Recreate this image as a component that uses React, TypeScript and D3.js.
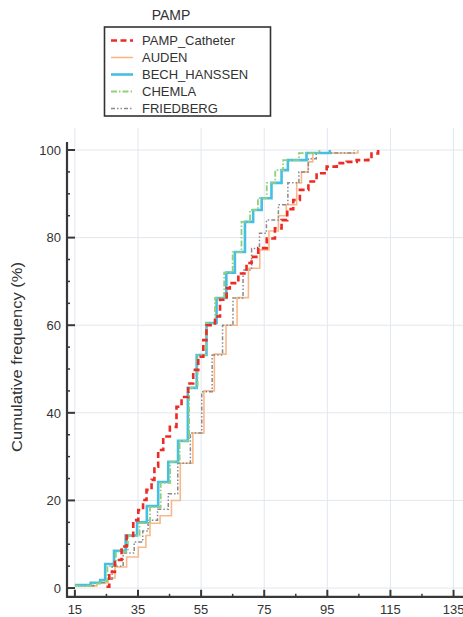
import React from "react";
import * as d3 from "d3";

// ---- data (value, cumulative %) step points ----
const pampCatheter: [number, number][] = [
  [25.0, 0.3], [25.9, 3.7], [27.7, 6.4], [29.8, 9.5], [31.4, 11.9], [33.5, 15.5], [35.1, 17.8],
  [36.6, 20.1], [37.7, 22.4], [39.3, 24.7], [40.2, 27.7], [41.4, 31.5], [43.0, 34.6], [45.1, 36.8],
  [47.2, 41.4], [48.8, 43.6], [50.9, 46.7], [52.5, 49.8], [54.1, 52.8], [55.7, 56.6], [56.7, 60.0],
  [59.4, 62.0], [61.0, 65.8], [63.1, 68.4], [64.1, 69.6], [66.8, 71.8], [69.4, 74.2], [71.0, 75.6],
  [73.1, 77.6], [75.8, 79.8], [78.4, 82.1], [80.5, 84.0], [82.3, 86.5], [84.2, 88.6], [86.3, 90.9],
  [89.0, 92.8], [91.6, 94.7], [94.8, 96.2], [98.0, 97.0], [101.1, 97.3], [104.3, 97.7], [108.0, 98.1],
  [109.0, 99.2], [111.1, 100],
];
const auden: [number, number][] = [
  [17, 0.5], [22, 1.2], [25.5, 2.3], [27.7, 4.8], [31.4, 7.1], [35.1, 9.3], [37.5, 12.0], [38.8, 14.8],
  [42.0, 16.5], [45.6, 20.0], [48.4, 28.5], [52.4, 35.4], [55.9, 45.0], [59.2, 53.4], [62.9, 60.0],
  [66.4, 66.3], [70.0, 73.0], [73.6, 77.2], [76.5, 81.5], [79.5, 85.0], [82.0, 87.5], [85.3, 92.5],
  [86.8, 95.0], [88.9, 97.3], [90.4, 99.3], [104.7, 100],
];
const bechHanssen: [number, number][] = [
  [15, 0.7], [20, 1.2], [23, 1.8], [24.6, 5.5], [27.4, 8.5], [31.1, 12.0], [34.7, 15.0], [37.8, 18.7],
  [41.4, 24.2], [44.6, 28.8], [47.7, 33.6], [50.8, 45.7], [53.6, 53.2], [56.7, 60.5], [59.9, 66.2],
  [63.0, 72.0], [65.7, 76.7], [68.9, 83.6], [71.5, 86.3], [74.2, 89.0], [77.3, 92.5], [80.5, 95.4],
  [82.5, 97.7], [88.4, 99.3], [95.8, 100],
];
const chemla: [number, number][] = [
  [15, 0.5], [20, 1.0], [23, 1.6], [25.3, 5.0], [28.0, 8.3], [31.8, 12.0], [35.5, 14.8], [38.8, 18.5],
  [42.2, 24.0], [45.2, 28.8], [48.2, 33.6], [51.2, 45.7], [53.9, 53.2], [56.5, 60.5], [59.4, 66.2],
  [62.3, 72.0], [65.0, 76.7], [67.8, 83.6], [70.5, 86.3], [73.0, 89.0], [75.8, 92.5], [78.5, 95.4],
  [81.0, 97.7], [86.0, 99.3], [92.5, 100],
];
const friedberg: [number, number][] = [
  [16, 0.5], [21, 1.2], [24.5, 2.0], [26.8, 5.0], [30.3, 8.0], [33.8, 10.5], [36.5, 13.0], [38.2, 15.5],
  [41.2, 18.0], [44.6, 21.5], [47.6, 28.5], [51.6, 35.4], [55.2, 44.8], [58.5, 53.2], [61.8, 60.0],
  [65.1, 66.2], [68.3, 72.6], [71.0, 77.5], [73.5, 81.0], [75.7, 84.0], [79.5, 87.5], [82.5, 92.5],
  [86.0, 95.0], [89.0, 98.0], [91.5, 99.3], [103.5, 100],
];

const seriesNames = ["PAMP_Catheter", "AUDEN", "BECH_HANSSEN", "CHEMLA", "FRIEDBERG"];
const seriesData = [pampCatheter, auden, bechHanssen, chemla, friedberg];

const xMajorTicks = [15, 35, 55, 75, 95, 115, 135];
const xMinorTicks = [25, 45, 65, 85, 105, 125];
const yMajorTicks = [0, 20, 40, 60, 80, 100];
const yMinorTicks = [5, 10, 15, 25, 30, 35, 45, 50, 55, 65, 70, 75, 85, 90, 95];

const legendTitle = "PAMP";
const yAxisTitle = "Cumulative frequency (%)";

// ---- styles ----
const styles = [
  { color: "#ee2a24", width: 2.6, dash: "6,3.5" },
  { color: "#f8b98a", width: 1.6, dash: "" },
  { color: "#46bfe2", width: 2.6, dash: "" },
  { color: "#8fd07c", width: 1.8, dash: "6,2,1.5,2" },
  { color: "#8a8a8a", width: 1.5, dash: "4,2,1.5,2,1.5,2" },
];
const drawOrder = [1, 4, 2, 3, 0];

const W = 463;
const H = 617;
const FONT = "'Liberation Sans', Arial, sans-serif";

export default function App() {
  const x = d3.scaleLinear().domain([12.5, 138]).range([67, 463]);
  const y = d3.scaleLinear().domain([-2, 100]).range([596.8, 150]);
  const axisTop = y(101.8);
  const axisBottom = y(-2);
  const axisLeft = x(12.5);
  const line = d3
    .line<[number, number]>()
    .x((d) => x(d[0]))
    .y((d) => y(d[1]))
    .curve(d3.curveStepAfter);

  const axisColor = "#383838";
  const gridColor = "#e2e7ee";
  const textColor = "#333";

  const legX = 104.5;
  const legY = 27;
  const legW = 166;
  const legH = 89;
  const rowY0 = 40.5;
  const rowStep = 17;

  return (
    <svg
      width={W}
      height={H}
      style={{ position: "absolute", left: 0, top: 0, background: "#fff" }}
      fontFamily={FONT}
    >
      <rect x={0} y={0} width={W} height={H} fill="#fff" />
      {/* grid */}
      {xMajorTicks.map((t) => (
        <line key={"gx" + t} x1={x(t)} x2={x(t)} y1={128} y2={axisBottom} stroke={gridColor} strokeWidth={1} />
      ))}
      {yMajorTicks.map((t) => (
        <line key={"gy" + t} x1={axisLeft} x2={W} y1={y(t)} y2={y(t)} stroke={gridColor} strokeWidth={1} />
      ))}

      {/* series */}
      {drawOrder.map((i) => (
        <path
          key={"s" + i}
          d={line(seriesData[i]) || ""}
          fill="none"
          stroke={styles[i].color}
          strokeWidth={styles[i].width}
          strokeDasharray={styles[i].dash || undefined}
        />
      ))}

      {/* axes */}
      <line x1={axisLeft} x2={axisLeft} y1={axisTop} y2={axisBottom + 1} stroke={axisColor} strokeWidth={2.2} />
      <line x1={axisLeft - 1} x2={W} y1={axisBottom} y2={axisBottom} stroke={axisColor} strokeWidth={2.2} />
      {yMajorTicks.map((t) => (
        <g key={"yt" + t}>
          <line x1={axisLeft} x2={axisLeft + 8} y1={y(t)} y2={y(t)} stroke={axisColor} strokeWidth={2} />
          <text x={61} y={y(t) + 4.8} textAnchor="end" fontSize={13} fill={textColor}>
            {t}
          </text>
        </g>
      ))}
      {yMinorTicks.map((t) => (
        <line key={"ym" + t} x1={axisLeft} x2={axisLeft + 3} y1={y(t)} y2={y(t)} stroke={axisColor} strokeWidth={1.5} />
      ))}
      {xMajorTicks.map((t) => (
        <g key={"xt" + t}>
          <line x1={x(t)} x2={x(t)} y1={axisBottom} y2={axisBottom - 7} stroke={axisColor} strokeWidth={2} />
          <text x={x(t)} y={614} textAnchor="middle" fontSize={13} fill={textColor}>
            {t}
          </text>
        </g>
      ))}
      {xMinorTicks.map((t) => (
        <line key={"xm" + t} x1={x(t)} x2={x(t)} y1={axisBottom} y2={axisBottom - 3} stroke={axisColor} strokeWidth={1.5} />
      ))}
      <text
        transform={`translate(22,${357}) rotate(-90) scale(1.18,1)`}
        textAnchor="middle"
        fontSize={14}
        fill={textColor}
      >
        {yAxisTitle}
      </text>

      {/* legend */}
      <text x={171} y={20} textAnchor="middle" fontSize={14} fill={textColor}>
        {legendTitle}
      </text>
      <rect x={legX} y={legY} width={legW} height={legH} fill="#fff" stroke="#333" strokeWidth={1.6} />
      {seriesNames.map((name, i) => {
        const ry = rowY0 + i * rowStep;
        return (
          <g key={"lg" + i}>
            <line
              x1={111}
              x2={133}
              y1={ry}
              y2={ry}
              stroke={styles[i].color}
              strokeWidth={styles[i].width}
              strokeDasharray={styles[i].dash || undefined}
            />
            <text x={142} y={ry + 4.6} fontSize={13} fill={textColor}>
              {name}
            </text>
          </g>
        );
      })}
    </svg>
  );
}
